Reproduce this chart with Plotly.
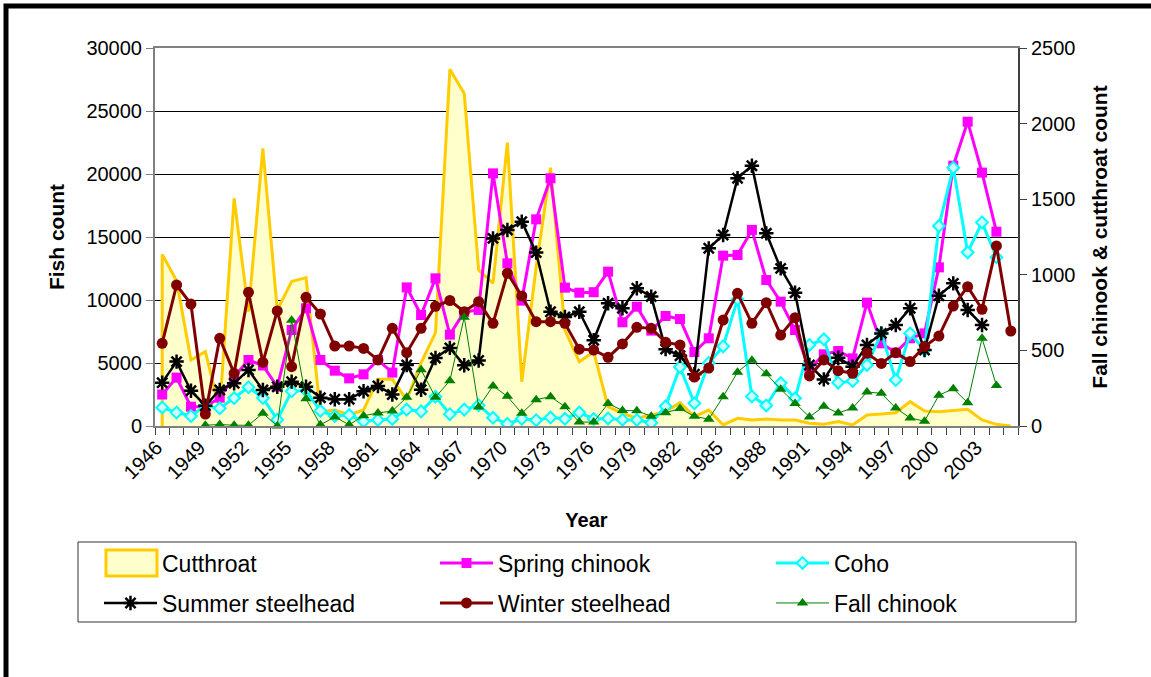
import plotly.graph_objects as go

years = list(range(1946, 2006))
tick_years = list(range(1946, 2004, 3))

cutthroat = [1135, 960, 437, 492, 110, 1506, 756, 1836, 767, 955,
             981, 95, 106, 73, 106, 309, 309, 172, 417, 618,
             2359, 2200, 1032, 944, 1874, 293, 1050, 1709, 635, 425,
             491, 128, 84, 51, 73, 95, 154, 62, 106, 7,
             51, 40, 46, 40, 40, 18, 11, 29, 7, 73,
             79, 88, 161, 99, 95, 101, 110, 40, 11, 0]

spring_chinook = [2500, 3840, 1530, 1530, 2250, 3900, 5240, 4800, 3120, 7620,
                  9340, 5240, 4390, 3780, 4100, 5240, 4240, 11000, 8810, 11720,
                  7250, 9050, 9210, 20050, 12910, 9950, 16400, 19660, 10980, 10580,
                  10620, 12250, 8230, 9470, 7570, 8730, 8490, 5870, 6960, 13520,
                  13570, 15560, 11590, 9870, 7620, 4500, 5690, 5950, 5370, 9790,
                  6560, 5820, 6960, 7350, 12590, 20660, 24150, 20110, 15420, None]

coho = [1470, 1070, 794, 1600, 1400, 2220, 3080, 2220, 500, 2750,
        2820, 1200, 800, 870, 370, 476, 560, 1300, 1160, 2330,
        940, 1300, 1650, 650, 170, 570, 460, 670, 570, 1070,
        560, 600, 500, 480, 250, 1560, 4680, 1800, 5000, 6320,
        10050, 2350, 1630, 3410, 2200, 6430, 6880, 3440, 3570, 4840,
        7350, 3650, 7350, 6030, 15870, 20500, 13780, 16160, 13390, None]

summer_steelhead = [3440, 5110, 2800, 1610, 2860, 3390, 4440, 2860, 3120, 3520,
                    3120, 2250, 2120, 2120, 2760, 3175, 2500, 4840, 2880, 5400,
                    6200, 4820, 5200, 14890, 15560, 16220, 13760, 9070, 8650, 9070,
                    6800, 9740, 9340, 10930, 10270, 6100, 5570, 4110, 14100, 15160,
                    19660, 20660, 15290, 12510, 10580, 4840, 3700, 5420, 4710, 6430,
                    7350, 8020, 9340, 6030, 10340, 11320, 9210, 8020, None, None]

winter_steelhead = [6560, 11190, 9680, 950, 6960, 4180, 10610, 5050, 9130, 4710,
                    10210, 8890, 6350, 6350, 6160, 5240, 7750, 5820, 7750, 9500,
                    9960, 9070, 9870, 8150, 12120, 10320, 8280, 8280, 8150, 6100,
                    6030, 5450, 6510, 7830, 7750, 6650, 6430, 3890, 4600, 8410,
                    10530, 8150, 9790, 7220, 8600, 3970, 5240, 4390, 4180, 5770,
                    4970, 5820, 5110, 6300, 7140, 9520, 11060, 9260, 14290, 7540]

fall_chinook = [None, None, None, 5, 10, 5, 5, 84, 0, 700,
                180, 8, 60, 8, 68, 86, 99, 190, 372, 190,
                300, 720, 125, 265, 196, 84, 174, 194, 128, 26,
                26, 148, 103, 101, 64, 88, 115, 64, 45, 194,
                356, 435, 346, 243, 148, 60, 130, 86, 119, 225,
                216, 119, 53, 32, 203, 247, 154, 580, 268, None]

FONT = "Liberation Sans, Arial, sans-serif"
CUT_FILL, CUT_LINE = "#FFFFCC", "#FFCC00"

fig = go.Figure()

# Cutthroat area (right axis, drawn first / underneath)
fig.add_trace(go.Scatter(
    x=[years[0]] + years + [years[-1]],
    y=[0] + cutthroat + [0],
    name="Cutthroat", mode="lines", fill="tozeroy",
    fillcolor=CUT_FILL, line=dict(color=CUT_LINE, width=3),
    yaxis="y", showlegend=False))

# legend entry for the area (its box symbol is drawn as a shape below)
fig.add_trace(go.Scatter(
    x=[None], y=[None], name="Cutthroat", mode="markers",
    marker=dict(color="rgba(0,0,0,0)", size=1),
    yaxis="y", legend="legend"))

fig.add_trace(go.Scatter(
    x=years, y=spring_chinook, name="Spring chinook", mode="lines+markers",
    line=dict(color="#FF00FF", width=3),
    marker=dict(symbol="square", size=10, color="#FF00FF"),
    yaxis="y2", legend="legend"))

fig.add_trace(go.Scatter(
    x=years, y=coho, name="Coho", mode="lines+markers",
    line=dict(color="#00FFFF", width=3),
    marker=dict(symbol="diamond", size=9, color="#CCFFFF",
                line=dict(color="#00FFFF", width=2)),
    yaxis="y2", legend="legend"))

fig.add_trace(go.Scatter(
    x=years, y=summer_steelhead, name="Summer steelhead", mode="lines+markers",
    line=dict(color="#000000", width=2.5),
    marker=dict(symbol="asterisk-open", size=12,
                line=dict(color="#000000", width=2.5)),
    yaxis="y2", legend="legend2"))

fig.add_trace(go.Scatter(
    x=years, y=winter_steelhead, name="Winter steelhead", mode="lines+markers",
    line=dict(color="#800000", width=3),
    marker=dict(symbol="circle", size=11, color="#800000"),
    yaxis="y2", legend="legend2"))

fig.add_trace(go.Scatter(
    x=years, y=fall_chinook, name="Fall chinook", mode="lines+markers",
    line=dict(color="#008000", width=1),
    marker=dict(symbol="triangle-up", size=10, color="#008000"),
    yaxis="y3", cliponaxis=False, legend="legend2"))

L, R, T, B = 155, 133, 48, 251
W, H = 1151, 677
pw, ph = W - L - R, H - T - B


def px_x(x):
    return (x - L) / pw


def px_y(y):
    return (H - B - y) / ph


legend_common = dict(
    orientation="h", xanchor="left", yanchor="middle",
    entrywidth=268, entrywidthmode="pixels", itemwidth=53,
    font=dict(size=23, family=FONT, color="black"),
    borderwidth=0, bgcolor="rgba(0,0,0,0)",
)

fig.update_layout(
    width=W, height=H,
    margin=dict(l=L, r=R, t=T, b=B, autoexpand=False),
    paper_bgcolor="white", plot_bgcolor="white",
    font=dict(family=FONT, color="black", size=20),
    xaxis=dict(
        range=[years[0] - 0.5, years[-1] + 0.5],
        tickmode="array", tickvals=[y - 0.4 for y in tick_years],
        ticktext=[str(y) for y in tick_years],
        tickangle=-45, ticks="", tickfont=dict(size=20),
        showline=True, linecolor="#808080", linewidth=2, mirror=True,
        showgrid=False, zeroline=False,
        minor=dict(tickmode="array",
                   tickvals=[y - 0.5 for y in years] + [years[-1] + 0.5],
                   ticks="outside", ticklen=7, tickwidth=1,
                   tickcolor="#404040", showgrid=False),
        title=dict(text="<b>Year</b>", font=dict(size=20), standoff=31),
    ),
    yaxis=dict(
        range=[0, 2500], dtick=500, side="right", tickformat="d",
        showgrid=False, zeroline=False,
        ticks="outside", ticklen=7, tickcolor="#404040",
        showline=True, linecolor="#404040", linewidth=2,
        tickfont=dict(size=20),
        title=dict(text="<b>Fall chinook &amp; cutthroat count</b>",
                   font=dict(size=21), standoff=18),
    ),
    yaxis2=dict(
        range=[0, 30000], dtick=5000, side="left", overlaying="y",
        tickformat="d",
        showgrid=True, gridcolor="#000000", gridwidth=1, zeroline=False,
        ticks="outside", ticklen=7, tickcolor="#808080",
        showline=True, linecolor="#808080", linewidth=2,
        tickfont=dict(size=20),
        title=dict(text="<b>Fish count</b>", font=dict(size=21), standoff=16),
    ),
    yaxis3=dict(range=[0, 2500], overlaying="y", visible=False),
    legend=dict(x=px_x(99), y=px_y(563), **legend_common),
    legend2=dict(x=px_x(99), y=px_y(603), **legend_common),
    shapes=[
        dict(type="rect", xref="paper", yref="paper",
             x0=px_x(78), x1=px_x(1076), y0=px_y(622), y1=px_y(542),
             line=dict(color="#333333", width=1), layer="below"),
        dict(type="rect", xref="paper", yref="paper",
             x0=px_x(106), x1=px_x(157), y0=px_y(576), y1=px_y(550),
             fillcolor=CUT_FILL, line=dict(color=CUT_LINE, width=3),
             layer="above"),
        dict(type="rect", xref="paper", yref="paper",
             x0=px_x(6), x1=px_x(W + 40), y0=px_y(H + 40), y1=px_y(6),
             line=dict(color="black", width=5), layer="above"),
    ],
)

fig.write_html("out.html",
               config={"displayModeBar": False},
               post_script="document.body.style.margin='0px';")
